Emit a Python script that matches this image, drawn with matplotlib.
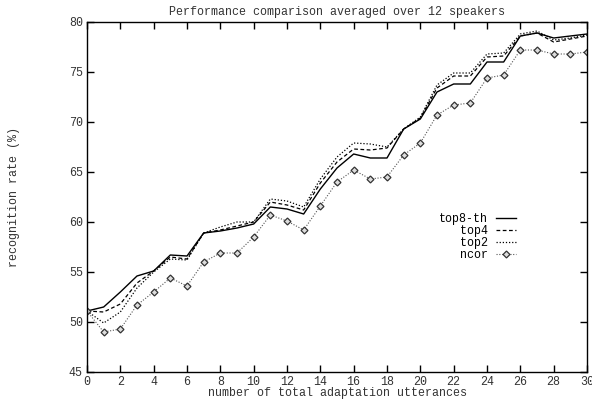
import matplotlib
matplotlib.use("Agg")
import matplotlib.pyplot as plt
import numpy as np

# Donnees
utterances = list(range(31))
top8_th = [51.1, 51.5, 53.0, 54.6, 55.1, 56.7, 56.6, 58.9, 59.1, 59.4, 59.8,
           61.5, 61.3, 60.8, 63.3, 65.4, 66.8, 66.4, 66.4, 69.3, 70.3,
           73.0, 73.8, 73.8, 76.0, 76.0, 78.6, 78.9, 78.4, 78.6, 78.8]
top4 = [51.1, 51.0, 51.8, 53.9, 55.1, 56.5, 56.3, 58.9, 59.2, 59.6, 60.0,
        62.0, 61.7, 61.2, 63.9, 66.0, 67.3, 67.2, 67.4, 69.3, 70.4,
        73.4, 74.6, 74.6, 76.5, 76.6, 78.6, 78.9, 78.0, 78.3, 78.6]
top2 = [51.1, 49.9, 51.0, 53.4, 55.0, 56.3, 56.2, 58.9, 59.5, 60.0, 60.0,
        62.3, 62.1, 61.5, 64.3, 66.5, 67.9, 67.8, 67.5, 69.3, 70.5,
        73.7, 74.9, 74.9, 76.8, 76.9, 78.8, 79.1, 78.2, 78.4, 78.7]
ncor = [51.1, 49.0, 49.3, 51.7, 53.0, 54.4, 53.6, 56.0, 56.9, 56.9, 58.5,
        60.7, 60.1, 59.2, 61.6, 64.0, 65.2, 64.3, 64.5, 66.7, 67.9,
        70.7, 71.7, 71.9, 74.4, 74.7, 77.2, 77.2, 76.8, 76.8, 77.0]

xticks = np.arange(0, 31, 2)
yticks = np.arange(45, 81, 5)

plt.rcParams['font.family'] = ['Liberation Mono', 'DejaVu Sans Mono']
plt.rcParams['font.size'] = 8.4

fig = plt.figure(figsize=(5.92, 4.0), dpi=100)
ax = fig.add_axes([87/592, 28/400, 500/592, 350/400])

ax.plot(utterances, top8_th, color="black", lw=1.0, label="top8-th")
ax.plot(utterances, top4, color="black", lw=0.9, linestyle=(0, (3, 2)), label="   top4")
ax.plot(utterances, top2, color="black", lw=0.9, linestyle=(0, (1, 1.5)), label="   top2")
ax.plot(utterances, ncor, color="#555555", lw=0.8, linestyle=(0, (1, 1.5)),
        marker="D", markersize=3.5, markerfacecolor="#dddddd",
        markeredgecolor="#333333", markeredgewidth=0.9, label="   ncor")

ax.set_xlim(0, 30)
ax.set_ylim(45, 80)
ax.set_xticks(xticks)
ax.set_yticks(yticks)
ax.tick_params(direction="in", length=5, width=1, top=True, right=True,
               labelcolor="#333333", pad=3)
for s in ax.spines.values():
    s.set_linewidth(1.0)

ax.set_title("Performance comparison averaged over 12 speakers", pad=5,
             fontsize=8.4, color="#333333")
ax.set_xlabel("number of total adaptation utterances", color="#333333")
ax.set_ylabel("recognition rate (%)", color="#333333")
ax.xaxis.set_label_coords(0.5, -0.043)
ax.yaxis.set_label_coords(-0.134, 0.5)

ax.legend(loc="center right", bbox_to_anchor=(0.858, 0.385), frameon=False,
          markerfirst=False, handlelength=1.7, handletextpad=0.7,
          labelspacing=0.0, borderpad=0, borderaxespad=0)

fig.savefig("out.png", dpi=100)
